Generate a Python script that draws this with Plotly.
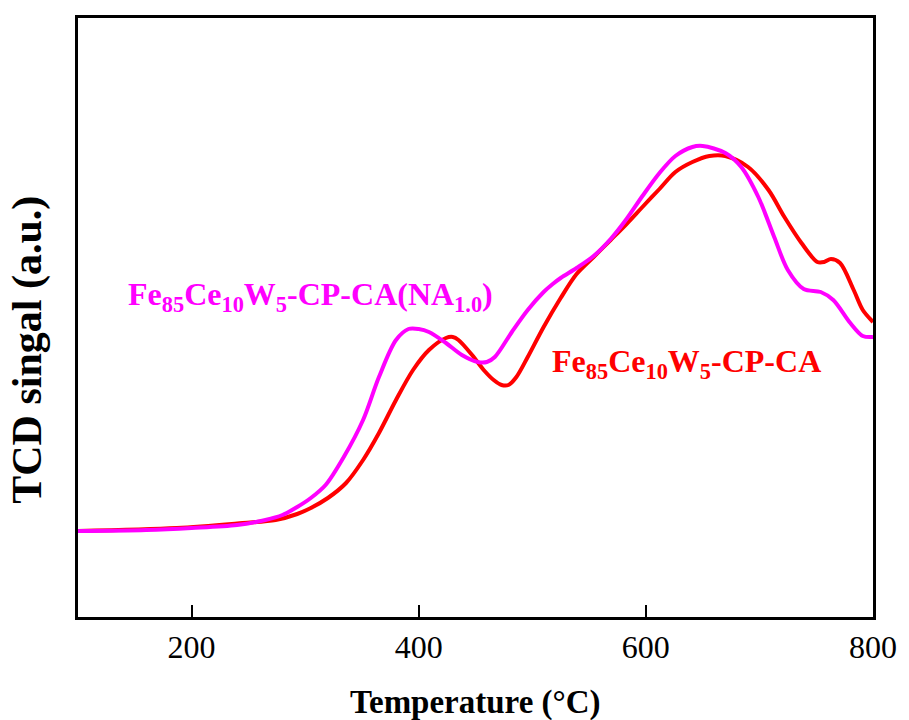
import plotly.graph_objects as go

# Fe85Ce10W5-CP-CA(NA1.0) (magenta)
temp_na = [100, 160, 200, 240, 265, 280, 293, 305, 318, 334, 351, 365, 380, 391, 400, 409,
           424, 438, 452, 460, 467, 482, 496, 510, 518, 525, 539, 554, 569, 583, 597, 612,
           626, 641, 650, 670, 684, 699, 713, 725, 739, 754, 765, 780, 791, 800]
sig_na = [86, 87, 89, 92, 97, 102, 110, 119, 132, 160, 197, 240, 277, 288, 288, 285,
          274, 262, 255, 255, 260, 285, 307, 325, 333, 339, 349, 361, 378, 398, 421, 444,
          461, 470, 471, 464, 450, 420, 380, 347, 328, 325, 317, 294, 281, 280]

# Fe85Ce10W5-CP-CA (red)
temp_ca = [100, 187, 245, 274, 293, 305, 320, 336, 351, 365, 380, 395, 409, 424, 430, 435,
           447, 458, 466, 473, 479, 486, 496, 510, 525, 539, 554, 569, 583, 597, 612, 626,
           641, 656, 670, 690, 708, 722, 737, 751, 757, 763, 771, 783, 791, 800]
sig_ca = [86, 89, 94, 97, 103, 109, 119, 134, 157, 184, 217, 247, 267, 279, 280, 277,
          262, 246, 237, 232, 232, 240, 260, 290, 319, 343, 360, 377, 393, 410, 428, 445,
          455, 461, 461, 450, 427, 400, 374, 355, 355, 358, 354, 327, 307, 295]

x_ticks = [200, 400, 600, 800]

FONT = "Liberation Serif"

fig = go.Figure()
fig.add_trace(go.Scatter(x=temp_ca, y=sig_ca, mode="lines",
                         line=dict(color="#FF0000", width=4, shape="spline", smoothing=0.9),
                         showlegend=False))
fig.add_trace(go.Scatter(x=temp_na, y=sig_na, mode="lines",
                         line=dict(color="#FF00FF", width=4, shape="spline", smoothing=0.9),
                         showlegend=False))

fig.add_annotation(x=142, y=321, xref="x", yref="y", xanchor="left", yanchor="middle",
                   text="<b>Fe<sub>85</sub>Ce<sub>10</sub>W<sub>5</sub>-CP-CA(NA<sub>1.0</sub>)</b>",
                   showarrow=False, font=dict(family=FONT, size=32, color="#FF00FF"))
fig.add_annotation(x=515.5, y=254, xref="x", yref="y", xanchor="left", yanchor="middle",
                   text="<b>Fe<sub>85</sub>Ce<sub>10</sub>W<sub>5</sub>-CP-CA</b>",
                   showarrow=False, font=dict(family=FONT, size=32, color="#FF0000"))

# axis titles
fig.add_annotation(x=0.5, y=-0.143, xref="paper", yref="paper", xanchor="center", yanchor="middle",
                   text="<b>Temperature (°C)</b>", showarrow=False,
                   font=dict(family=FONT, size=33, color="black"))
fig.add_annotation(x=-0.063, y=0.446, xref="paper", yref="paper", xanchor="center", yanchor="middle",
                   text="<b>TCD singal (a.u.)</b>", showarrow=False, textangle=-90,
                   font=dict(family=FONT, size=42, color="black"))

fig.update_layout(
    width=909, height=720,
    margin=dict(l=78, r=26, t=18, b=103),
    paper_bgcolor="white", plot_bgcolor="white",
    font=dict(family=FONT, color="black"),
    xaxis=dict(range=[100, 800], tickvals=x_ticks, ticks="inside", ticklen=12, tickwidth=1.5,
               tickcolor="black", showgrid=False, zeroline=False, showline=True, linecolor="black",
               linewidth=2.5, mirror=True, tickfont=dict(family=FONT, size=32, color="black")),
    yaxis=dict(range=[0, 599], showticklabels=False, ticks="", showgrid=False, zeroline=False,
               showline=True, linecolor="black", linewidth=2.5, mirror=True),
)

fig.write_html("out.html")
